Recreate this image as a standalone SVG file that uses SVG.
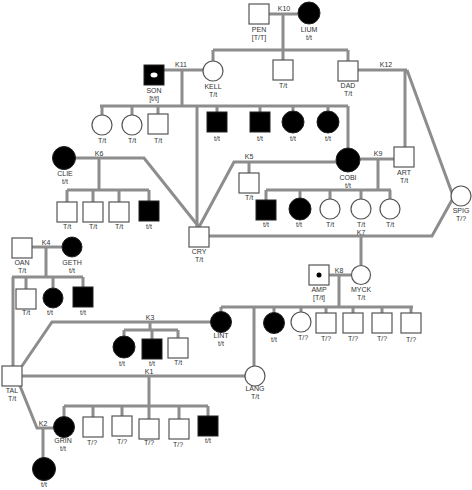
<svg xmlns="http://www.w3.org/2000/svg" width="472" height="490" viewBox="0 0 472 490">
<style>
.ln{stroke:#8d8d8d;stroke-width:3;fill:none;stroke-linejoin:miter}
.o{fill:#fff;stroke:#555;stroke-width:1.2}
.f{fill:#000;stroke:#222;stroke-width:1}
text{font-family:"Liberation Sans",Arial,sans-serif;font-size:7px;fill:#333;text-anchor:middle}
</style>
<rect width="472" height="490" fill="#fff"/>
<g id="connectors" class="ln">
<path d="M269 14H298M283 14V50M213 50H348M213 50V61M283 50V60M348 50V61"/>
<path d="M358 70H407M405 70V147M407 70L452 193"/>
<path d="M164 70H203M182 70V106M100 106H348M102 106V115M132 106V115M158 106V114M217 106V112M260 106V112M293 106V111M328 106V111M348 106V148M197 106V227"/>
<path d="M75 158H144L199 227M99 158V190M67 190H149M67 190V202M93 190V202M119 190V202M149 190V201"/>
<path d="M199 227L234 162H336M249 162V173"/>
<path d="M360 159H394M378 159V190M266 190H391M266 190V200M300 190V198M330 190V199M361 190V199M390 190V199"/>
<path d="M209 236H432L452 200M361 236V266"/>
<path d="M329 275H352M339 275V307M221 307H413M221 307V312M254 307V366M274 307V313M301 307V312M326 307V313M353 307V313M382 307V313M411 307V313"/>
<path d="M32 247H62M46 247V277M12 277H83M13 277V366M26 277V289M53 277V288M83 277V287"/>
<path d="M22 366L52 322H211M150 322V330M124 330H178M124 330V336M152 330V339M178 330V338"/>
<path d="M22 376H245M149 376V406M64 406H208M64 406V416M93 406V417M122 406V416M149 406V419M179 406V419M208 406V416"/>
<path d="M20 386L37 428H54M43 428V458"/>
</g>
<g id="lbl-marriages">
<text x="284" y="11">K10</text>
<text x="386" y="67">K12</text>
<text x="181" y="67">K11</text>
<text x="99" y="156">K6</text>
<text x="249" y="159">K5</text>
<text x="378" y="156">K9</text>
<text x="361" y="235">K7</text>
<text x="339" y="273">K8</text>
<text x="46" y="245">K4</text>
<text x="150" y="320">K3</text>
<text x="149" y="374">K1</text>
<text x="43" y="426">K2</text>
</g>
<g id="PEN"><rect class="o" x="249" y="4" width="20" height="20"/><text x="259" y="32">PEN</text><text x="259" y="40">[T/T]</text></g>
<g id="LIUM"><circle class="f" cx="309" cy="13" r="11"/><text x="309" y="32">LIUM</text><text x="309" y="40">t/t</text></g>
<g id="n-pen-son"><rect class="o" x="273" y="60" width="20" height="20"/><text x="283" y="88">T/t</text></g>
<g id="DAD"><rect class="o" x="338" y="61" width="20" height="20"/><text x="348" y="88">DAD</text><text x="348" y="96">T/t</text></g>
<g id="SON"><rect class="f" x="144" y="65" width="20" height="20"/><ellipse cx="154" cy="75" rx="3.5" ry="2.5" fill="#fff"/><text x="154" y="93">SON</text><text x="154" y="101">[t/t]</text></g>
<g id="KELL"><circle class="o" cx="213" cy="71" r="10"/><text x="213" y="89">KELL</text><text x="213" y="97">T/t</text></g>
<g id="k11-c1"><circle class="o" cx="102" cy="125" r="10"/><text x="102" y="143">T/t</text></g>
<g id="k11-c2"><circle class="o" cx="132" cy="125" r="10"/><text x="132" y="143">T/t</text></g>
<g id="k11-c3"><rect class="o" x="148" y="114" width="20" height="20"/><text x="158" y="143">T/t</text></g>
<g id="k11-c4"><rect class="f" x="207" y="112" width="20" height="20"/><text x="217" y="141">t/t</text></g>
<g id="k11-c5"><rect class="f" x="250" y="112" width="20" height="20"/><text x="260" y="141">t/t</text></g>
<g id="k11-c6"><circle class="f" cx="293" cy="122" r="11"/><text x="293" y="141">t/t</text></g>
<g id="k11-c7"><circle class="f" cx="328" cy="122" r="11"/><text x="328" y="141">t/t</text></g>
<g id="COBI"><circle class="f" cx="348" cy="160" r="12"/><text x="348" y="180">COBI</text><text x="348" y="188">t/t</text></g>
<g id="ART"><rect class="o" x="394" y="147" width="20" height="20"/><text x="404" y="175">ART</text><text x="404" y="183">T/t</text></g>
<g id="CLIE"><circle class="f" cx="64" cy="158" r="11.5"/><text x="65" y="176">CLIE</text><text x="65" y="184">t/t</text></g>
<g id="k6-c1"><rect class="o" x="57" y="202" width="20" height="20"/><text x="67" y="229">T/t</text></g>
<g id="k6-c2"><rect class="o" x="83" y="202" width="20" height="20"/><text x="93" y="229">T/t</text></g>
<g id="k6-c3"><rect class="o" x="109" y="202" width="20" height="20"/><text x="119" y="229">T/t</text></g>
<g id="k6-c4"><rect class="f" x="139" y="201" width="20" height="20"/><text x="149" y="229">t/t</text></g>
<g id="CRY"><rect class="o" x="189" y="227" width="20" height="20"/><text x="199" y="254">CRY</text><text x="199" y="262">T/t</text></g>
<g id="k5-c1"><rect class="o" x="239" y="173" width="20" height="20"/><text x="249" y="200">T/t</text></g>
<g id="k9-c1"><rect class="f" x="256" y="200" width="20" height="20"/><text x="266" y="227">t/t</text></g>
<g id="k9-c2"><circle class="f" cx="300" cy="209" r="11"/><text x="299" y="227">t/t</text></g>
<g id="k9-c3"><circle class="o" cx="330" cy="209" r="10"/><text x="330" y="227">T/t</text></g>
<g id="k9-c4"><circle class="o" cx="361" cy="209" r="10"/><text x="361" y="227">T/t</text></g>
<g id="k9-c5"><circle class="o" cx="390" cy="209" r="10"/><text x="390" y="227">T/t</text></g>
<g id="SPIG"><circle class="o" cx="461" cy="196" r="10"/><text x="461" y="213">SPIG</text><text x="461" y="221">T/?</text></g>
<g id="AMP"><rect class="o" x="309" y="265" width="20" height="20"/><circle cx="319" cy="275" r="2.5" fill="#000"/><text x="319" y="292">AMP</text><text x="319" y="300">[T/t]</text></g>
<g id="MYCK"><circle class="o" cx="361" cy="275" r="9.5"/><text x="361" y="292">MYCK</text><text x="361" y="300">T/t</text></g>
<g id="LINT"><circle class="f" cx="221" cy="322" r="10.5"/><text x="221" y="338">LINT</text><text x="221" y="346">t/t</text></g>
<g id="k8-c2"><circle class="f" cx="274" cy="323" r="10.5"/><text x="274" y="342">t/t</text></g>
<g id="k8-c3"><circle class="o" cx="301" cy="322" r="10"/><text x="303" y="340">T/?</text></g>
<g id="k8-c4"><rect class="o" x="316" y="313" width="20" height="20"/><text x="326" y="341">T/?</text></g>
<g id="k8-c5"><rect class="o" x="343" y="313" width="20" height="20"/><text x="353" y="341">T/?</text></g>
<g id="k8-c6"><rect class="o" x="372" y="313" width="20" height="20"/><text x="382" y="341">T/?</text></g>
<g id="k8-c7"><rect class="o" x="401" y="313" width="20" height="20"/><text x="411" y="342">T/?</text></g>
<g id="LANG"><circle class="o" cx="255" cy="376" r="10"/><text x="255" y="391">LANG</text><text x="255" y="399">T/t</text></g>
<g id="OAN"><rect class="o" x="12" y="238" width="20" height="20"/><text x="22" y="265">OAN</text><text x="22" y="273">T/t</text></g>
<g id="GETH"><circle class="f" cx="72" cy="247" r="10"/><text x="72" y="265">GETH</text><text x="72" y="273">t/t</text></g>
<g id="k4-c1"><rect class="o" x="16" y="289" width="20" height="20"/><text x="26" y="315">T/t</text></g>
<g id="k4-c2"><circle class="f" cx="53" cy="298" r="10"/><text x="50" y="315">t/t</text></g>
<g id="k4-c3"><rect class="f" x="73" y="287" width="20" height="20"/><text x="83" y="315">t/t</text></g>
<g id="k3-c1"><circle class="f" cx="124" cy="347" r="11"/><text x="122" y="366">t/t</text></g>
<g id="k3-c2"><rect class="f" x="142" y="339" width="20" height="20"/><text x="152" y="366">t/t</text></g>
<g id="k3-c3"><rect class="o" x="168" y="338" width="20" height="20"/><text x="178" y="365">T/t</text></g>
<g id="TAL"><rect class="o" x="2" y="366" width="20" height="20"/><text x="12" y="393">TAL</text><text x="12" y="401">T/t</text></g>
<g id="GRIN"><circle class="f" cx="64" cy="427" r="10.5"/><text x="63" y="443">GRIN</text><text x="63" y="451">t/t</text></g>
<g id="k1-c2"><rect class="o" x="83" y="417" width="20" height="20"/><text x="92" y="445">T/?</text></g>
<g id="k1-c3"><rect class="o" x="112" y="416" width="20" height="20"/><text x="122" y="444">T/?</text></g>
<g id="k1-c4"><rect class="o" x="139" y="419" width="20" height="20"/><text x="149" y="445">T/?</text></g>
<g id="k1-c5"><rect class="o" x="169" y="419" width="20" height="20"/><text x="178" y="447">T/?</text></g>
<g id="k1-c6"><rect class="f" x="198" y="416" width="20" height="20"/><text x="208" y="443">t/t</text></g>
<g id="k2-c1"><circle class="f" cx="44" cy="469" r="11.5"/><text x="44" y="487">t/t</text></g>
</svg>
